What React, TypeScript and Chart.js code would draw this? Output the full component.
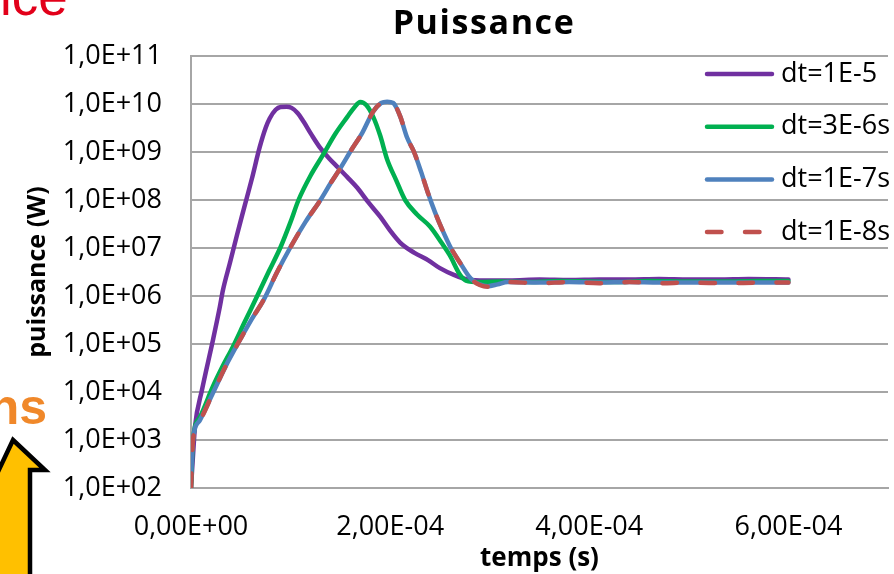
import React, { useEffect, useRef } from "react";
import { Chart, registerables } from "chart.js";

Chart.register(...registerables);

const FONT = "'Open Sans', 'DejaVu Sans', sans-serif";

const chartTitle = "Puissance";
const xTitle = "temps (s)";
const yTitle = "puissance (W)";

const seriesNames = ["dt=1E-5", "dt=3E-6s", "dt=1E-7s", "dt=1E-8s"];
const seriesColors = ["#7030a0", "#00b050", "#4f81bd", "#c0504d"];

// dt=1E-5
const time1 = [0, 3e-6, 4e-6, 1.1e-5, 2.2e-5, 2.9e-5, 3.2e-5, 3.9e-5, 4.6e-5, 5.1e-5, 5.6e-5, 6.1e-5, 6.9e-5, 7.5e-5, 7.9e-5, 8.5e-5, 9.0e-5, 9.6e-5, 1.01e-4, 1.07e-4, 1.13e-4, 1.21e-4, 1.30e-4, 1.39e-4, 1.47e-4, 1.57e-4, 1.67e-4, 1.78e-4, 1.90e-4, 2.00e-4, 2.10e-4, 2.24e-4, 2.38e-4, 2.50e-4, 2.64e-4, 2.78e-4, 2.95e-4, 3.2e-4, 3.5e-4, 3.8e-4, 4.1e-4, 4.4e-4, 4.7e-4, 5.0e-4, 5.3e-4, 5.6e-4, 6.0e-4];
const power1 = [1.0e2, 1.0e3, 1.9e3, 1.1e4, 1.2e5, 6.0e5, 1.3e6, 4.8e6, 1.8e7, 4.5e7, 1.1e8, 2.7e8, 1.26e9, 3.2e9, 5.0e9, 7.6e9, 8.7e9, 8.8e9, 8.3e9, 6.5e9, 4.3e9, 2.3e9, 1.2e9, 7.2e8, 4.9e8, 3.0e8, 1.8e8, 9.0e7, 4.5e7, 2.3e7, 1.3e7, 8.0e6, 5.6e6, 3.8e6, 2.75e6, 2.2e6, 2.1e6, 2.1e6, 2.2e6, 2.15e6, 2.2e6, 2.2e6, 2.25e6, 2.2e6, 2.2e6, 2.25e6, 2.2e6];

// dt=3E-6s
const time2 = [0, 2e-6, 9e-6, 2.2e-5, 3.2e-5, 4.2e-5, 5.4e-5, 6.6e-5, 7.8e-5, 9.0e-5, 1.0e-4, 1.08e-4, 1.2e-4, 1.33e-4, 1.45e-4, 1.57e-4, 1.64e-4, 1.70e-4, 1.76e-4, 1.83e-4, 1.90e-4, 1.97e-4, 2.06e-4, 2.15e-4, 2.27e-4, 2.40e-4, 2.52e-4, 2.60e-4, 2.70e-4, 2.76e-4, 2.90e-4, 3.1e-4, 3.4e-4, 3.7e-4, 4.0e-4, 4.3e-4, 4.6e-4, 5.0e-4, 5.4e-4, 5.7e-4, 6.0e-4];
const power2 = [1.0e2, 1.0e3, 3.0e3, 1.3e4, 3.5e4, 8.7e4, 2.9e5, 9.5e5, 3.2e6, 1.05e7, 3.5e7, 1.0e8, 3.2e8, 9.0e8, 2.4e9, 5.4e9, 8.5e9, 1.1e10, 9.5e9, 5.4e9, 2.2e9, 7.0e8, 2.6e8, 1.0e8, 5.0e7, 2.8e7, 1.25e7, 7.0e6, 2.8e6, 2.1e6, 1.95e6, 2.0e6, 1.95e6, 2.05e6, 2.0e6, 1.95e6, 2.05e6, 2.0e6, 2.0e6, 2.05e6, 2.05e6];

// dt=1E-7s
const time3 = [0, 2e-6, 9e-6, 2.2e-5, 3.5e-5, 4.9e-5, 6.1e-5, 7.3e-5, 8.6e-5, 1.0e-4, 1.15e-4, 1.30e-4, 1.40e-4, 1.50e-4, 1.61e-4, 1.72e-4, 1.83e-4, 1.91e-4, 1.97e-4, 2.03e-4, 2.10e-4, 2.17e-4, 2.24e-4, 2.31e-4, 2.38e-4, 2.45e-4, 2.52e-4, 2.61e-4, 2.70e-4, 2.81e-4, 2.90e-4, 2.98e-4, 3.08e-4, 3.18e-4, 3.5e-4, 3.8e-4, 4.1e-4, 4.4e-4, 4.7e-4, 5.0e-4, 5.4e-4, 5.7e-4, 6.0e-4];
const power3 = [1.5e2, 1.0e3, 2.6e3, 9.5e3, 3.5e4, 1.2e5, 3.3e5, 8.3e5, 3.0e6, 1.05e7, 3.5e7, 1.0e8, 2.2e8, 4.6e8, 1.1e9, 2.5e9, 7.0e9, 1.05e10, 1.12e10, 1.05e10, 5.6e9, 2.0e9, 1.0e9, 3.9e8, 1.4e8, 5.6e7, 2.5e7, 1.0e7, 5.0e6, 2.3e6, 1.75e6, 1.6e6, 1.75e6, 1.95e6, 1.9e6, 1.95e6, 1.9e6, 1.95e6, 1.9e6, 1.9e6, 1.9e6, 1.9e6, 1.9e6];

// dt=1E-8s
const time4 = [0, 2e-6, 9e-6, 2.2e-5, 3.5e-5, 4.9e-5, 6.1e-5, 7.3e-5, 8.6e-5, 1.0e-4, 1.15e-4, 1.30e-4, 1.40e-4, 1.50e-4, 1.61e-4, 1.72e-4, 1.83e-4, 1.91e-4, 1.97e-4, 2.03e-4, 2.10e-4, 2.17e-4, 2.24e-4, 2.31e-4, 2.38e-4, 2.45e-4, 2.52e-4, 2.61e-4, 2.70e-4, 2.81e-4, 2.90e-4, 2.98e-4, 3.08e-4, 3.18e-4, 3.5e-4, 3.8e-4, 4.1e-4, 4.4e-4, 4.7e-4, 5.0e-4, 5.4e-4, 5.7e-4, 6.0e-4];
const power4 = [1.0e2, 1.0e3, 2.6e3, 9.5e3, 3.5e4, 1.2e5, 3.3e5, 8.3e5, 3.0e6, 1.05e7, 3.5e7, 1.0e8, 2.2e8, 4.6e8, 1.1e9, 2.5e9, 7.0e9, 1.05e10, 1.12e10, 1.05e10, 5.6e9, 2.0e9, 1.0e9, 3.9e8, 1.4e8, 5.6e7, 2.5e7, 1.0e7, 5.0e6, 2.3e6, 1.7e6, 1.55e6, 1.7e6, 1.95e6, 1.85e6, 1.95e6, 1.85e6, 1.95e6, 1.85e6, 1.9e6, 1.85e6, 1.9e6, 1.9e6];

const xTickValues = [0, 2e-4, 4e-4, 6e-4];
const xTickLabels = ["0,00E+00", "2,00E-04", "4,00E-04", "6,00E-04"];
const yTickValues = [1e2, 1e3, 1e4, 1e5, 1e6, 1e7, 1e8, 1e9, 1e10, 1e11];
const yTickLabels = ["1,0E+02", "1,0E+03", "1,0E+04", "1,0E+05", "1,0E+06", "1,0E+07", "1,0E+08", "1,0E+09", "1,0E+10", "1,0E+11"];

const slideTextTop = "ice";
const slideTextLeft = "ns";

function zip(t: number[], p: number[]) {
  return t.map((x, i) => ({ x, y: p[i] }));
}

const titlePlugin = {
  id: "slideTitle",
  afterDraw(chart: any) {
    const { ctx, chartArea: a } = chart;
    ctx.save();
    ctx.font = `bold 34px ${FONT}`;
    try {
      (ctx as any).letterSpacing = "1.6px";
    } catch (e) {}
    ctx.fillStyle = "#000";
    ctx.textAlign = "center";
    ctx.textBaseline = "middle";
    ctx.fillText(chartTitle, a.left + 293, a.top - 32);
    ctx.restore();
  },
};

const legendPlugin = {
  id: "innerLegend",
  afterDatasetsDraw(chart: any) {
    const { ctx, chartArea: a } = chart;
    chart.data.datasets.forEach((ds: any, i: number) => {
      const y = a.top + 18 + i * 52.7;
      ctx.save();
      ctx.strokeStyle = ds.borderColor;
      ctx.lineWidth = 4.5;
      ctx.lineCap = "round";
      ctx.setLineDash(ds.borderDash ? [14.5, 23.5] : []);
      ctx.beginPath();
      ctx.moveTo(a.right - 181, y);
      ctx.lineTo(a.right - 116, y);
      ctx.stroke();
      ctx.setLineDash([]);
      ctx.font = `27px ${FONT}`;
      ctx.fillStyle = "#000";
      ctx.textAlign = "left";
      ctx.textBaseline = "middle";
      ctx.fillText(ds.label, a.right - 107, y);
      ctx.restore();
    });
  },
};

export default function App() {
  const ref = useRef<HTMLCanvasElement | null>(null);

  useEffect(() => {
    if (!ref.current) return;
    const series = [
      zip(time1, power1),
      zip(time2, power2),
      zip(time3, power3),
      zip(time4, power4),
    ];
    const orders = [3, 2, 1, 0];
    const chart = new Chart(ref.current, {
      type: "line",
      data: {
        datasets: series.map((d, i) => ({
          label: seriesNames[i],
          data: d,
          borderColor: seriesColors[i],
          backgroundColor: seriesColors[i],
          borderWidth: 4.5,
          borderDash: i === 3 ? [14.5, 23.5] : undefined,
          borderCapStyle: "round",
          borderJoinStyle: "round",
          pointRadius: 0,
          cubicInterpolationMode: "monotone",
          fill: false,
          order: orders[i],
        })) as any,
      },
      options: {
        animation: false,
        responsive: false,
        maintainAspectRatio: false,
        layout: { padding: { top: 56, right: 6, left: 0, bottom: 0 } },
        plugins: {
          legend: { display: false },
          title: { display: false },
          tooltip: { enabled: false },
        },
        scales: {
          x: {
            type: "linear",
            min: 0,
            max: 7e-4,
            afterBuildTicks: (s: any) => {
              s.ticks = xTickValues.map((v) => ({ value: v }));
            },
            afterFit: (s: any) => {
              s.height = 86;
            },
            grid: { display: false, drawTicks: false },
            border: { display: true, color: "#a6a6a6", width: 2 },
            ticks: {
              padding: 23,
              autoSkip: false,
              maxRotation: 0,
              color: "#000",
              font: { family: FONT, size: 27 },
              callback: (v: any, i: number) => xTickLabels[i],
            },
            title: {
              display: true,
              text: xTitle,
              color: "#000",
              font: { family: FONT, size: 26, weight: "bold" },
              padding: { top: 0, bottom: 0 },
            },
          },
          y: {
            type: "logarithmic",
            min: 1e2,
            max: 1e11,
            afterBuildTicks: (s: any) => {
              s.ticks = yTickValues.map((v) => ({ value: v }));
            },
            afterFit: (s: any) => {
              s.width = 191;
            },
            grid: { color: "#a6a6a6", lineWidth: 2, drawTicks: false },
            border: { display: true, color: "#a6a6a6", width: 2 },
            ticks: {
              padding: 29,
              autoSkip: false,
              color: "#000",
              font: { family: FONT, size: 27 },
              callback: (v: any, i: number) => yTickLabels[i],
            },
            title: {
              display: true,
              text: yTitle,
              color: "#000",
              font: { family: FONT, size: 25, weight: "bold" },
              padding: { top: 23, bottom: 0 },
            },
          },
        },
      } as any,
      plugins: [titlePlugin, legendPlugin],
    });
    return () => chart.destroy();
  }, []);

  return (
    <div
      style={{
        position: "fixed",
        left: 0,
        top: 0,
        width: 894,
        height: 574,
        background: "#fff",
        overflow: "hidden",
      }}
    >
      <canvas ref={ref} width={894} height={574} style={{ position: "absolute", left: 0, top: 0 }} />
      <div
        style={{
          position: "absolute",
          left: 0,
          top: -30,
          font: "53px 'Liberation Sans', Arial, sans-serif",
          lineHeight: 1,
          color: "#e2001a",
          whiteSpace: "nowrap",
        }}
      >
        {slideTextTop}
      </div>
      <div
        style={{
          position: "absolute",
          right: 847,
          top: 382,
          font: "bold 50px 'Liberation Sans', Arial, sans-serif",
          lineHeight: 1,
          color: "#f0882a",
          whiteSpace: "nowrap",
        }}
      >
        {slideTextLeft}
      </div>
      <svg width={894} height={574} style={{ position: "absolute", left: 0, top: 0, pointerEvents: "none" }}>
        <polygon
          points="13,440 45,470 30,470 30,600 -5,600 -5,478"
          fill="#ffc000"
          stroke="#000"
          strokeWidth={4.5}
          strokeLinejoin="miter"
        />
      </svg>
    </div>
  );
}
